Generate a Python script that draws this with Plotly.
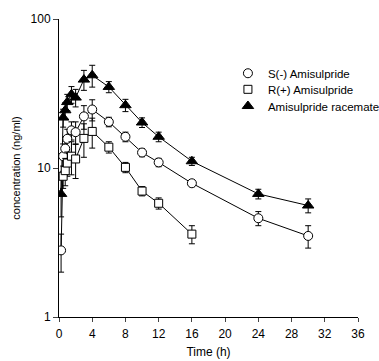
import plotly.graph_objects as go

# Sampling times (h)
t_s = [0.25, 0.5, 0.75, 1, 1.5, 2, 3, 4, 6, 8, 10, 12, 16, 24, 30]
t_r = [0.5, 0.75, 1, 1.5, 2, 3, 4, 6, 8, 10, 12, 16]
t_rac = [0.25, 0.5, 0.75, 1, 1.5, 2, 3, 4, 6, 8, 10, 12, 16, 24, 30]

# Mean plasma concentrations (ng/ml) and their error
s_conc = [2.8, 12.0, 13.5, 15.7, 17.9, 17.4, 22.2, 24.7, 20.4, 16.2, 12.7, 10.9, 7.9, 4.6, 3.5]
s_err = [0.8, 2.5, 2.5, 2.5, 2.5, 3.0, 4.0, 4.0, 1.5, 1.2, 0.8, 0.7, 0.4, 0.5, 0.6]

r_conc = [8.8, 9.6, 10.8, 12.0, 11.5, 15.8, 17.6, 13.8, 10.1, 7.0, 5.8, 3.6]
r_err = [1.5, 2.0, 2.0, 3.0, 3.0, 4.0, 4.0, 1.2, 0.8, 0.5, 0.5, 0.5]

rac_conc = [6.7, 21.8, 24.4, 27.7, 31.2, 29.7, 39.2, 41.9, 35.0, 26.4, 20.2, 16.2, 11.1, 6.7, 5.6]
rac_err = [2.0, 3.0, 3.0, 3.5, 4.0, 4.0, 6.0, 7.0, 3.0, 2.5, 1.5, 1.2, 0.7, 0.5, 0.6]

names = ["S(-) Amisulpride", "R(+) Amisulpride", "Amisulpride racemate"]
x_ticks = [0, 4, 8, 12, 16, 20, 24, 28, 32, 36]
y_ticks = [1, 10, 100]

FONT = "Liberation Sans, Arial, sans-serif"

circle = dict(symbol="circle", size=9, color="white", line=dict(color="black", width=1))
square = dict(symbol="square", size=8, color="white", line=dict(color="black", width=1))
triangle = dict(symbol="triangle-up", size=10, color="black", line=dict(color="black", width=1))

series = [
    (t_rac, rac_conc, rac_err, triangle),
    (t_s, s_conc, s_err, circle),
    (t_r, r_conc, r_err, square),
]

fig = go.Figure()
for x, y, e, m in series:
    fig.add_trace(go.Scatter(
        x=x, y=y, mode="lines+markers",
        line=dict(color="black", width=1),
        marker=m,
        error_y=dict(type="data", array=e, color="black", thickness=1, width=3),
        showlegend=False,
    ))

# Marker-only key entries, one small legend per row
legend_ids = ["legend", "legend2", "legend3"]
legend_rows = [0.818, 0.764, 0.708]
for name, m, lid in zip(names, [circle, square, triangle], legend_ids):
    fig.add_trace(go.Scatter(x=[None], y=[None], mode="markers", marker=m,
                             name=name, legend=lid))

legend_style = dict(x=0.565, xanchor="left", yanchor="middle",
                    bgcolor="rgba(0,0,0,0)", font=dict(size=11.5))

fig.update_layout(
    width=379, height=361,
    margin=dict(l=59, r=21, t=19, b=44, autoexpand=False),
    paper_bgcolor="white", plot_bgcolor="white",
    font=dict(family=FONT, size=12, color="black"),
    legend=dict(y=legend_rows[0], **legend_style),
    legend2=dict(y=legend_rows[1], **legend_style),
    legend3=dict(y=legend_rows[2], **legend_style),
    xaxis=dict(range=[0, 36], tickvals=x_ticks, ticks="outside", ticklen=4,
               ticklabelstandoff=2,
               showline=True, linecolor="black", linewidth=1, showgrid=False,
               zeroline=False, title=dict(text="Time (h)", font=dict(size=12), standoff=7),
               tickfont=dict(size=12)),
    yaxis=dict(type="log", range=[0, 2], tickvals=y_ticks, ticktext=["1", "10", "100"],
               ticks="outside", ticklen=5, showline=True, linecolor="black", linewidth=1,
               showgrid=False, zeroline=False,
               title=dict(text="concentration (ng/ml)", font=dict(size=11), standoff=7),
               tickfont=dict(size=12)),
)

fig.write_html("out.html")
